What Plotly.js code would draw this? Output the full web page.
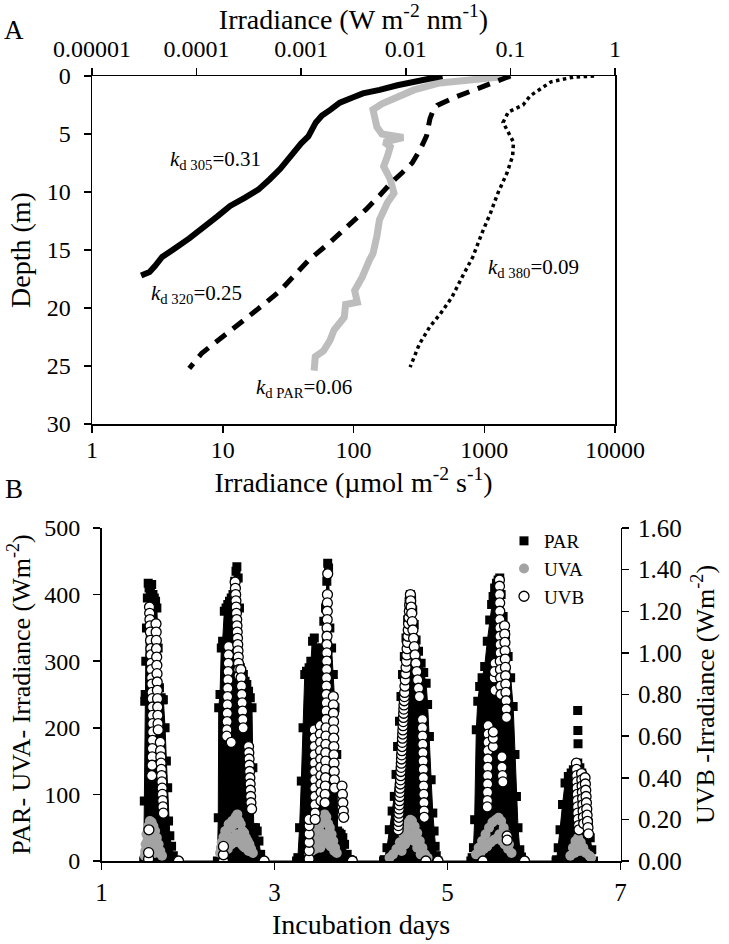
<!DOCTYPE html>
<html>
<head>
<meta charset="utf-8">
<script src="https://cdn.plot.ly/plotly-3.0.1.min.js"></script>
<style>html,body{margin:0;padding:0;background:#fff;}#chart{width:729px;height:944px;}</style>
</head>
<body>
<div id="chart"></div>
<script>
// ---------- Panel A: depth profiles ----------
const depth305 = [0,0.4,0.8,1.2,1.5,1.9,2.3,2.9,3.4,4.0,4.6,5.2,5.8,6.6,7.3,8.0,8.9,9.8,10.5,11.2,12.1,13.0,14.0,15.0,15.6,16.4,16.9,17.2];
const irr305 = [0.0224,0.0126,0.00832,0.00562,0.00389,0.00302,0.00234,0.00191,0.00158,0.00138,0.00129,0.00117,0.00100,0.000851,0.000741,0.000631,0.000501,0.000389,0.000288,0.000209,0.000158,0.000120,0.0000851,0.0000589,0.0000468,0.0000398,0.0000355,0.0000295];

const depth320 = [0,0.6,1.23,1.8,2.53,3.0,3.7,4.4,5.15,6.3,7.5,8.3,9.2,10.3,11.5,12.9,14.3,15.9,17.2,18.5,19.7,20.8,22.5,23.9,25.2];
const irr320 = [0.1,0.0661,0.0437,0.0302,0.0200,0.0182,0.0170,0.0166,0.0158,0.0138,0.0115,0.00933,0.00724,0.00562,0.00417,0.00282,0.00191,0.00117,0.000871,0.000631,0.000437,0.000309,0.000178,0.000112,0.0000851];

const depth380 = [0,0.1,0.5,1.1,1.7,2.5,3.1,4.0,4.85,5.7,6.9,8.3,10.1,11.8,13.5,15.6,17.3,19.1,20.5,21.6,23.1,24.8,25.1];
const irr380 = [0.631,0.398,0.245,0.195,0.155,0.132,0.0955,0.0851,0.0955,0.107,0.105,0.0933,0.0759,0.0646,0.0537,0.0437,0.0347,0.0275,0.0214,0.0170,0.0135,0.0115,0.0110];

const depthPAR = [0,0.3,0.6,1.2,1.8,2.4,2.9,3.6,4.4,5.0,5.3,5.7,6.1,6.9,7.8,8.9,10.1,10.9,12.4,13.8,15.3,15.9,17.3,18.5,19.5,19.7,20.8,21.9,22.8,23.7,24.2,25.4];
const irrPAR = [1580,800,457,290,215,165,141,145,151,165,240,172,191,182,170,191,204,182,158,151,141,132,117,102,107,87,85,71,66,59,51,50];

const topTickVals = [0.00001,0.0001,0.001,0.01,0.1,1];
const topTickText = ['0.00001','0.0001','0.001','0.01','0.1','1'];
const bottomTickVals = [1,10,100,1000,10000];
const depthTicks = [0,5,10,15,20,25,30];

// ---------- Panel B: incubation time series ----------
const parDays = [
 1.488,1.495,1.500,1.505,1.512,1.520,1.530,1.540,1.550,1.565,1.580,1.595,1.610,1.625,1.640,1.655,1.670,1.690,1.700,1.715,1.735,1.750,1.765,1.775,1.790,1.810,1.830,1.850,
 2.340,2.350,2.355,2.370,2.385,2.400,2.420,2.440,2.460,2.480,2.500,2.520,2.540,2.555,2.565,2.580,2.595,2.605,2.620,2.640,2.660,2.680,2.700,2.720,2.740,2.750,2.760,2.780,2.800,2.820,2.840,2.860,
 3.255,3.270,3.290,3.310,3.330,3.350,3.370,3.400,3.420,3.440,3.460,3.480,3.500,3.520,3.550,3.570,3.590,3.605,3.615,3.625,3.640,3.660,3.680,3.700,3.720,3.730,3.750,3.770,3.790,3.810,3.840,3.870,3.900,
 4.260,4.269,4.300,4.327,4.360,4.385,4.405,4.423,4.445,4.462,4.480,4.501,4.520,4.540,4.556,4.571,4.585,4.598,4.615,4.637,4.665,4.695,4.725,4.753,4.770,4.791,4.811,4.830,4.845,4.857,4.870,4.888,
 5.270,5.285,5.300,5.314,5.333,5.350,5.372,5.400,5.430,5.460,5.488,5.510,5.527,5.545,5.566,5.585,5.604,5.620,5.643,5.670,5.701,5.730,5.759,5.780,5.797,5.815,5.836,5.855,5.875,
 6.255,6.262,6.280,6.301,6.330,6.359,6.397,6.430,6.455,6.480,6.506,6.530,6.552,6.570,6.591,6.610,6.630,6.650,6.668,6.688];
const parVals = [
 0,90,240,250,300,350,395,417,410,405,415,400,395,390,380,320,260,245,242,242,200,150,110,60,38,22,8,0,
 0,65,230,250,320,330,375,380,385,390,395,400,420,435,442,425,380,290,285,280,270,265,255,245,230,140,50,50,45,30,10,0,
 0,5,50,120,200,280,285,290,300,330,335,320,300,310,320,360,380,420,447,440,350,320,280,230,160,45,42,40,35,25,10,2,0,
 0,2,20,47,75,97,130,172,210,247,280,307,335,362,385,400,392,377,355,332,315,297,283,267,235,187,122,72,45,22,8,0,
 0,5,20,62,197,240,262,275,292,330,362,385,397,410,417,422,425,400,367,340,307,275,232,160,97,50,17,6,0,
 0,2,20,47,85,117,127,132,137,142,147,140,132,115,97,75,57,35,17,0];
const parSpikeDays = [6.505,6.507,6.509];
const parSpikeVals = [226,196,176];

const uvaDays = [
 1.500,1.505,1.510,1.515,1.520,1.525,1.530,1.535,1.540,1.545,1.550,1.555,1.560,1.565,1.570,1.575,1.580,1.585,1.590,1.595,1.600,1.605,1.610,1.615,1.620,1.625,1.630,1.640,1.645,1.650,1.660,1.670,1.680,1.700,
 2.370,2.380,2.390,2.400,2.410,2.420,2.430,2.440,2.450,2.460,2.470,2.480,2.490,2.500,2.510,2.520,2.530,2.540,2.550,2.560,2.570,2.580,2.590,2.600,2.610,2.620,2.630,2.640,2.650,2.660,2.670,2.690,2.700,2.710,2.730,2.750,
 3.400,3.410,3.420,3.430,3.440,3.450,3.460,3.470,3.480,3.490,3.500,3.510,3.520,3.530,3.540,3.550,3.560,3.570,3.580,3.590,3.600,3.610,3.620,3.630,3.640,3.650,3.660,3.680,3.690,3.700,3.720,
 4.330,4.370,4.410,4.450,4.490,4.520,4.550,4.570,4.590,4.620,4.650,4.680,4.710,4.740,4.770,4.470,4.510,4.550,4.580,4.610,4.650,4.690,
 5.330,5.360,5.380,5.400,5.420,5.440,5.460,5.480,5.500,5.520,5.540,5.560,5.580,5.590,5.600,5.620,5.630,5.650,5.660,5.680,5.700,5.710,5.740,
 6.420,6.450,6.470,6.480,6.500,6.510,6.530,6.540,6.570,6.600,6.640,6.660];
const uvaVals = [
 8,15,25,12,40,20,30,15,52,28,45,18,60,30,42,22,58,28,38,15,52,25,30,12,45,20,25,35,15,20,25,12,15,8,
 12,20,28,15,36,22,45,25,40,18,55,30,50,25,60,35,55,28,66,40,70,35,60,30,55,25,45,22,42,20,35,30,15,25,18,12,
 12,20,30,15,40,22,35,18,46,25,52,28,45,20,56,30,62,35,70,40,66,30,56,25,50,22,40,30,15,20,12,
 5,10,18,28,40,50,58,62,60,52,42,30,20,10,5,15,25,35,40,30,20,10,
 10,20,12,30,18,40,22,50,28,58,32,62,35,65,40,60,30,50,25,40,18,25,12,
 8,20,12,30,18,35,15,28,20,12,8,5];

const uvbDays = [
 1.545,1.545,1.548,
 1.555,1.557,1.560,1.562,1.565,1.567,1.570,1.572,1.575,1.577,1.580,1.582,1.585,1.587,1.590,1.590,1.592,1.592,1.590,1.588,1.586,1.584,1.580,
 1.630,1.632,1.634,1.636,1.638,1.640,1.642,1.644,1.646,1.648,1.650,1.652,1.654,1.656,
 1.680,1.683,1.686,1.689,1.692,1.695,1.698,1.701,1.704,1.707,1.710,1.715,
 1.890,
 2.410,2.410,2.410,
 2.470,2.468,2.466,2.464,2.462,2.460,2.458,2.456,2.454,2.452,2.450,2.448,2.500,
 2.545,2.548,2.551,2.554,2.557,2.560,2.563,2.566,2.569,2.572,2.575,2.578,2.581,2.584,2.587,2.590,
 2.610,2.614,2.618,2.622,2.626,2.630,2.634,2.638,
 2.700,2.703,2.706,2.709,2.712,2.715,2.718,2.721,2.724,2.727,2.735,
 2.880,
 3.390,3.400,3.400,3.400,3.400,3.400,3.400,
 3.460,3.460,3.462,3.462,3.464,3.464,3.466,3.466,3.468,3.468,3.470,3.470,
 3.530,3.530,3.532,3.532,3.534,3.534,3.536,3.536,3.538,3.538,
 3.615,3.612,3.611,3.610,3.609,3.608,3.607,3.606,3.605,3.604,3.603,3.602,3.601,3.600,3.599,3.598,3.597,3.596,3.595,3.594,3.593,3.592,3.591,3.590,3.588,3.586,3.585,
 3.680,3.681,3.682,3.683,3.684,3.685,3.686,3.687,3.688,3.690,3.692,3.695,
 3.780,3.785,3.790,3.795,3.800,
 3.900,
 4.430,4.432,4.434,4.437,4.439,4.441,4.443,4.446,4.448,4.450,4.452,4.455,4.457,4.459,4.461,4.464,4.466,4.468,4.470,4.473,4.475,4.477,4.479,4.482,4.484,4.486,4.488,4.491,4.493,4.495,4.497,4.500,4.502,4.505,
 4.508,4.512,4.516,4.521,4.525,4.529,4.533,4.538,4.542,4.546,4.550,4.555,4.559,4.563,4.568,
 4.571,4.574,4.580,4.586,4.593,4.600,4.608,4.616,4.625,4.635,4.645,4.655,4.665,4.675,
 4.710,4.710,4.712,4.714,4.716,4.718,4.720,4.722,4.724,4.726,4.728,4.730,4.732,
 4.750,4.890,
 5.410,
 5.470,5.470,5.469,5.468,5.467,5.466,5.465,5.464,5.463,5.462,5.460,
 5.530,5.530,5.530,5.540,5.550,5.550,5.545,
 5.600,5.601,5.602,5.603,5.604,5.605,5.606,5.607,5.608,5.609,5.610,5.612,5.614,5.616,5.618,
 5.630,5.635,5.640,5.630,
 5.660,5.662,5.664,5.666,5.668,5.670,5.672,5.674,5.676,5.678,5.680,5.682,
 5.690,5.690,5.890,
 6.490,6.492,6.494,6.496,6.498,6.500,6.502,6.504,6.506,6.510,6.515,6.520,
 6.550,6.553,6.556,6.559,6.562,6.565,6.568,6.571,6.575,
 6.590,6.594,6.598,6.602,6.606,6.610,6.614,6.618,6.624,6.630];
const uvbVals = [
 0.01,0.04,0.15,
 1.22,1.19,1.16,1.13,1.10,1.06,1.02,0.99,0.95,0.92,0.88,0.85,0.81,0.78,0.74,0.70,0.66,0.62,0.58,0.54,0.50,0.46,0.41,
 1.14,1.10,1.06,1.02,0.98,0.94,0.90,0.86,0.82,0.78,0.74,0.70,0.66,0.63,
 0.57,0.53,0.50,0.47,0.44,0.41,0.38,0.35,0.32,0.29,0.26,0.23,
 0,
 0,0.03,0.07,
 1.03,0.99,0.95,0.91,0.87,0.83,0.79,0.75,0.71,0.67,0.63,0.60,0.57,
 1.34,1.31,1.28,1.25,1.22,1.19,1.16,1.13,1.10,1.07,1.04,1.01,0.98,0.95,0.92,0.89,
 0.92,0.88,0.84,0.80,0.76,0.72,0.68,0.64,
 0.55,0.52,0.49,0.46,0.43,0.40,0.37,0.34,0.31,0.28,0.25,
 0,
 0,0.01,0.05,0.09,0.13,0.17,0.20,
 0.63,0.59,0.55,0.51,0.47,0.43,0.39,0.35,0.31,0.27,0.23,0.20,
 0.65,0.61,0.57,0.53,0.49,0.45,0.41,0.37,0.33,0.29,
 1.38,1.28,1.24,1.20,1.16,1.12,1.08,1.04,1.00,0.96,0.92,0.88,0.84,0.80,0.76,0.72,0.68,0.64,0.60,0.56,0.52,0.48,0.44,0.40,0.36,0.32,0.28,
 0.79,0.75,0.71,0.67,0.63,0.59,0.55,0.51,0.47,0.43,0.39,0.35,
 0.36,0.32,0.28,0.24,0.21,
 0,
 0.15,0.17,0.19,0.21,0.23,0.25,0.27,0.29,0.31,0.33,0.35,0.37,0.39,0.41,0.43,0.45,0.47,0.49,0.51,0.53,0.55,0.57,0.59,0.61,0.63,0.65,0.67,0.69,0.71,0.73,0.75,0.77,0.79,0.81,
 0.84,0.87,0.90,0.93,0.96,0.99,1.02,1.05,1.08,1.11,1.14,1.17,1.20,1.23,1.26,
 1.28,1.25,1.22,1.19,1.15,1.11,1.07,1.03,0.99,0.95,0.91,0.87,0.83,0.79,
 0.68,0.64,0.60,0.56,0.52,0.48,0.44,0.40,0.36,0.32,0.28,0.24,0.21,
 0,0,
 0,
 0.65,0.61,0.57,0.53,0.49,0.45,0.41,0.37,0.33,0.29,0.26,
 0.55,0.59,0.62,0.88,0.82,0.95,0.91,
 1.35,1.32,1.28,1.24,1.20,1.16,1.12,1.08,1.04,1.00,0.96,0.92,0.88,0.84,0.80,
 0.45,0.41,0.38,0.50,
 1.13,1.09,1.05,1.01,0.97,0.93,0.89,0.85,0.81,0.77,0.73,0.69,
 0.12,0.10,0,
 0.47,0.44,0.41,0.38,0.35,0.32,0.29,0.26,0.23,0.20,0.17,0.15,
 0.42,0.39,0.36,0.33,0.30,0.27,0.24,0.21,0.18,
 0.40,0.37,0.34,0.31,0.28,0.25,0.22,0.19,0.16,0.13];

const dayTicks = [1,3,5,7];
const leftTicks = [0,100,200,300,400,500];
const rightTicks = [0,0.2,0.4,0.6,0.8,1.0,1.2,1.4,1.6];

// ---------- styling ----------
const FONT = 'Liberation Serif';
const W = 729, H = 944;
const px = v => v / W, py = v => 1 - v / H;

const traces = [
  {x: irrPAR, y: depthPAR, xaxis: 'x', yaxis: 'y', mode: 'lines', showlegend: false,
   line: {color: '#bdbdbd', width: 7}},
  {x: irr305, y: depth305, xaxis: 'x2', yaxis: 'y', mode: 'lines', showlegend: false,
   line: {color: '#000', width: 6}},
  {x: irr320, y: depth320, xaxis: 'x2', yaxis: 'y', mode: 'lines', showlegend: false,
   line: {color: '#000', width: 5, dash: '13px,9px'}},
  {x: irr380, y: depth380, xaxis: 'x2', yaxis: 'y', mode: 'lines', showlegend: false,
   line: {color: '#000', width: 3.5, dash: 'dot'}},
  // panel B
  {x: parDays, y: parVals, xaxis: 'x3', yaxis: 'y3', mode: 'lines', fill: 'tozeroy',
   fillcolor: '#000', line: {color: '#000', width: 1}, showlegend: false, hoverinfo: 'skip'},
  {x: parDays.concat(parSpikeDays), y: parVals.concat(parSpikeVals), xaxis: 'x3', yaxis: 'y3',
   mode: 'markers', name: 'PAR', marker: {symbol: 'square', size: 9, color: '#000'}},
  {x: uvaDays, y: uvaVals, xaxis: 'x3', yaxis: 'y3', mode: 'markers', name: 'UVA',
   marker: {symbol: 'circle', size: 10, color: '#a3a3a3', line: {width: 0}}},
  {x: uvbDays, y: uvbVals, xaxis: 'x3', yaxis: 'y4', mode: 'markers', name: 'UVB',
   marker: {symbol: 'circle', size: 10, color: '#fff', line: {color: '#000', width: 1.3}}}
];

const tfA = {family: FONT, size: 24, color: '#000'};
const tfB = {family: FONT, size: 25, color: '#000'};
const titleA = {family: FONT, size: 28, color: '#000'};
const titleBy = {family: FONT, size: 26, color: '#000'};
const axBase = {showgrid: false, zeroline: false, showline: true, linecolor: '#000', linewidth: 1.5,
  ticks: 'outside', ticklen: 7, tickwidth: 1.5, tickcolor: '#000'};

const ann = (text, x, y, size, xanchor) => ({text: text, x: px(x), y: py(y), xref: 'paper', yref: 'paper',
  xanchor: xanchor, yanchor: 'middle', showarrow: false, font: {family: FONT, size: size, color: '#000'}});

const layout = {
  width: W, height: H,
  margin: {l: 0, r: 0, t: 0, b: 0},
  paper_bgcolor: '#fff', plot_bgcolor: 'rgba(0,0,0,0)',
  font: {family: FONT, color: '#000'},
  xaxis: Object.assign({}, axBase, {type: 'log', range: [0, 4], domain: [px(92), px(615)], anchor: 'y',
    tickvals: bottomTickVals, ticktext: bottomTickVals.map(String), tickfont: tfA, ticklabelstandoff: -3,
    title: {text: 'Irradiance (µmol m<sup>-2</sup> s<sup>-1</sup>)', font: titleA, standoff: 0}}),
  xaxis2: Object.assign({}, axBase, {type: 'log', range: [-5, 0], overlaying: 'x', side: 'top', anchor: 'y',
    tickvals: topTickVals, ticktext: topTickText, tickfont: tfA, ticklabelstandoff: 1,
    title: {text: 'Irradiance (W m<sup>-2</sup> nm<sup>-1</sup>)', font: titleA, standoff: 2}}),
  yaxis: Object.assign({}, axBase, {range: [30, 0], domain: [py(424), py(76)], anchor: 'x', mirror: true,
    tickvals: depthTicks, tickfont: tfA, ticklabelstandoff: 8,
    title: {text: 'Depth (m)', font: titleA, standoff: 8}}),
  xaxis3: Object.assign({}, axBase, {range: [1, 7], domain: [px(101.5), px(620.5)], anchor: 'y3',
    tickvals: dayTicks, tickfont: tfB, ticklabelstandoff: 1,
    title: {text: 'Incubation days', font: titleA, standoff: 10}}),
  yaxis3: Object.assign({}, axBase, {range: [0, 500], domain: [py(861), py(528)], anchor: 'x3',
    tickvals: leftTicks, tickfont: {family: FONT, size: 24, color: '#000'}, ticklabelstandoff: 8,
    title: {text: 'PAR- UVA- Irradiance (Wm<sup>-2</sup>)', font: titleBy, standoff: 6}}),
  yaxis4: Object.assign({}, axBase, {range: [0, 1.6], overlaying: 'y3', side: 'right', anchor: 'x3',
    tickvals: rightTicks, tickformat: '.2f', tickfont: tfB, ticklabelstandoff: 4,
    title: {text: 'UVB -Irradiance (Wm<sup>-2</sup>)', font: titleBy, standoff: 15}}),
  legend: {x: px(504), y: py(522), xanchor: 'left', yanchor: 'top', bgcolor: 'rgba(0,0,0,0)',
    font: {family: FONT, size: 19, color: '#000'}, itemwidth: 30, tracegroupgap: 0},
  annotations: [
    ann('A', 14, 30, 27, 'center'),
    ann('B', 14, 489, 27, 'center'),
    ann('<i>k</i><sub>d 305</sub>=0.31', 168, 160, 21, 'left'),
    ann('<i>k</i><sub>d 320</sub>=0.25', 149, 294, 21, 'left'),
    ann('<i>k</i><sub>d PAR</sub>=0.06', 254, 388, 21, 'left'),
    ann('<i>k</i><sub>d 380</sub>=0.09', 486, 268, 21, 'left')
  ]
};

Plotly.newPlot('chart', traces, layout, {staticPlot: true, displayModeBar: false});
</script>
</body>
</html>
